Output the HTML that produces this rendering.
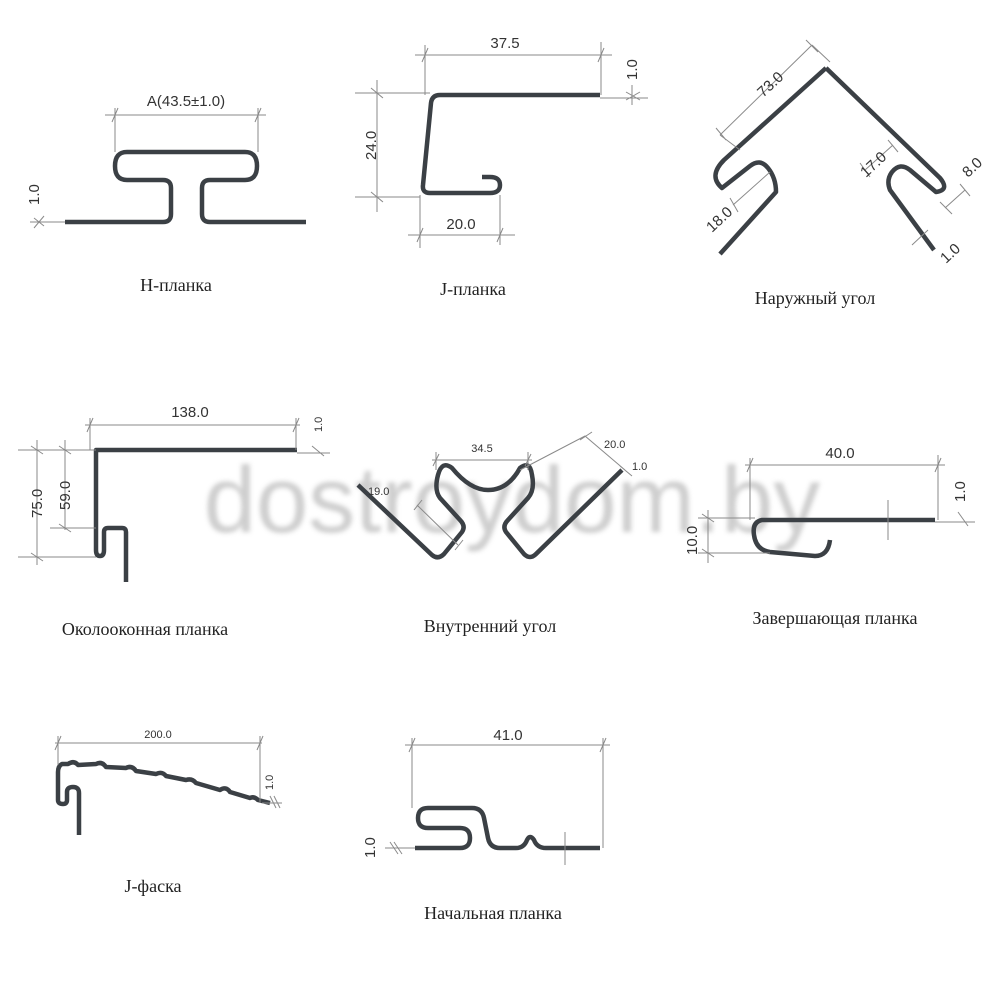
<!DOCTYPE html>
<html><head><meta charset="utf-8"><style>
html,body{margin:0;padding:0;background:#fff;}
svg{display:block;}
.t{stroke:#3b4045;stroke-width:4.5;fill:none;stroke-linecap:butt;stroke-linejoin:round;}
.d{stroke:#8a8a8a;stroke-width:1;fill:none;}
.n{font-family:"Liberation Sans",sans-serif;font-size:15px;fill:#333;}
.s{font-family:"Liberation Sans",sans-serif;font-size:11px;fill:#333;}
.l{font-family:"Liberation Serif","DejaVu Serif",serif;font-size:18px;fill:#222;}
</style></head><body>
<svg width="1000" height="1000" viewBox="0 0 1000 1000">
<defs><filter id="b"><feGaussianBlur stdDeviation="2.5"/></filter></defs>
<!-- watermark -->
<text x="512" y="532" text-anchor="middle" font-family="Liberation Sans,sans-serif" font-size="94" fill="#c9c9c9" filter="url(#b)" opacity="0.9">dostroydom.by</text>

<!-- H-planka -->
<path class="t" d="M65,222 H163 Q171,222 171,214 V188 Q171,180 163,180 H127 Q115,180 115,166 Q115,152 127,152 H245 Q257,152 257,166 Q257,180 245,180 H210 Q202,180 202,188 V214 Q202,222 210,222 H306"/>
<path class="d" d="M105,115 H266 M115,108 V152 M258,108 V152 M112,122 L118,108 M255,122 L261,108 M30,222 H65 M34,228 L44,216 M34,218 L44,226"/>
<text class="n" x="186" y="106" text-anchor="middle">A(43.5±1.0)</text>
<text class="n" transform="translate(39,205) rotate(-90)">1.0</text>
<text class="l" x="176" y="291" text-anchor="middle">H-планка</text>

<!-- J-planka -->
<path class="t" d="M600,95 H440 Q432,95 431,103 L423,185 Q422,193 430,193 H490 Q500,193 500,185 Q500,177 490,177 H482"/>
<path class="d" d="M415,55 H612 M425,45 V95 M601,42 V95 M422,62 L428,48 M598,62 L604,48 M377,80 V212 M355,93 H430 M355,197 H420 M371,88 L383,98 M371,192 L383,202 M408,235 H515 M420,195 V248 M500,195 V245 M417,242 L423,228 M497,242 L503,228 M600,98 H648 M632,85 V105 M626,92 L640,100 M626,100 L640,92"/>
<text class="n" x="505" y="48" text-anchor="middle">37.5</text>
<text class="n" transform="translate(376,160) rotate(-90)">24.0</text>
<text class="n" x="461" y="229" text-anchor="middle">20.0</text>
<text class="n" transform="translate(637,80) rotate(-90)">1.0</text>
<text class="l" x="473" y="295" text-anchor="middle">J-планка</text>

<!-- Outer corner -->
<path class="t" d="M826,68 L724,160 Q708,176 722,188 L750,166 Q760,158 768,168 Q776,178 776,192 L720,254"/>
<path class="t" d="M826,68 L940,178 Q950,190 936,192 L910,170 Q900,162 892,172 Q886,180 890,190 L934,250"/>
<path class="d" d="M720,135 L812,45 M716,128 L726,140 M806,40 L818,52 M812,45 L830,62 M720,135 L740,150 M733,205 L770,172 M730,198 L738,212 M865,170 L893,145 M860,163 L870,177 M888,140 L898,152 M945,208 L965,190 M940,202 L952,214 M960,184 L970,196 M912,245 L928,230"/>
<text class="n" transform="translate(763,98) rotate(-43)">73.0</text>
<text class="n" transform="translate(712,233) rotate(-43)">18.0</text>
<text class="n" transform="translate(866,178) rotate(-43)">17.0</text>
<text class="n" transform="translate(968,178) rotate(-43)">8.0</text>
<text class="n" transform="translate(946,264) rotate(-43)">1.0</text>
<text class="l" x="815" y="304" text-anchor="middle">Наружный угол</text>

<!-- Okolookonnaya -->
<path class="t" d="M297,450 H96 V550 Q96,556 100,556 Q104,556 104,550 V532 Q104,528 108,528 H122 Q126,528 126,532 V582"/>
<path class="d" d="M85,425 H300 M90,418 V450 M296,418 V450 M87,432 L93,418 M293,432 L299,418 M18,450 H96 M50,528 H96 M18,557 H96 M37,440 V565 M65,440 V530 M31,446 L43,454 M31,553 L43,561 M59,446 L71,454 M59,524 L71,532 M297,453 H330 M312,446 L324,456"/>
<text class="n" x="190" y="417" text-anchor="middle">138.0</text>
<text class="n" transform="translate(42,518) rotate(-90)">75.0</text>
<text class="n" transform="translate(70,510) rotate(-90)">59.0</text>
<text class="s" transform="translate(322,432) rotate(-90)">1.0</text>
<text class="l" x="145" y="635" text-anchor="middle">Околооконная планка</text>

<!-- Inner corner -->
<path class="t" d="M358,485 L432,555 Q438,560 444,554 L462,532 Q466,526 460,520 L440,498 Q434,490 438,475 Q442,460 452,468 Q470,490 488,490 Q508,490 520,468 Q530,460 532,475 Q535,490 528,498 L508,520 Q502,526 506,532 L524,554 Q530,560 536,554 L622,470"/>
<path class="d" d="M432,460 H532 M436,452 V470 M528,452 V470 M433,466 L439,454 M525,466 L531,454 M520,470 L585,436 L625,470 M580,440 L592,432 M620,466 L632,476 M417,505 L458,545 M414,510 L422,500 M455,550 L463,540"/>
<text class="s" x="482" y="452" text-anchor="middle">34.5</text>
<text class="s" x="604" y="448">20.0</text>
<text class="s" x="632" y="470">1.0</text>
<text class="s" x="368" y="495">19.0</text>
<text class="l" x="490" y="632" text-anchor="middle">Внутренний угол</text>

<!-- Zavershayushchaya -->
<path class="t" d="M935,520 H762 Q752,522 754,535 Q756,550 770,552 L815,556 Q828,556 830,540"/>
<path class="d" d="M745,465 H945 M750,458 V520 M938,455 V520 M747,472 L753,458 M935,472 L941,458 M698,518 H755 M698,553 H770 M708,510 V563 M702,514 L714,522 M702,549 L714,557 M935,522 H975 M958,512 L968,526 M888,500 V540"/>
<text class="n" x="840" y="458" text-anchor="middle">40.0</text>
<text class="n" transform="translate(697,555) rotate(-90)">10.0</text>
<text class="n" transform="translate(965,502) rotate(-90)">1.0</text>
<text class="l" x="835" y="624" text-anchor="middle">Завершающая планка</text>

<!-- J-faska -->
<path class="t" stroke-width="4" d="M270,803 L258,800 Q254,796 250,798 L230,792 Q226,786 220,790 L196,783 Q192,778 186,780 L166,776 Q162,771 156,774 L136,771 Q132,765 126,768 L106,767 Q102,761 96,764 L78,765 Q74,760 68,764 L62,764 Q58,766 58,772 V800 Q58,804 63,804 Q67,804 67,800 V792 Q67,787 73,787 Q79,787 79,793 V835"/>
<path class="d" d="M55,743 H262 M58,736 V765 M260,736 V803 M55,750 L61,736 M257,750 L263,736 M262,803 H282 M270,796 L276,808 M274,796 L280,808"/>
<text class="s" x="158" y="738" text-anchor="middle">200.0</text>
<text class="s" transform="translate(273,790) rotate(-90)">1.0</text>
<text class="l" x="153" y="892" text-anchor="middle">J-фаска</text>

<!-- Nachalnaya -->
<path class="t" d="M415,848 H460 Q470,848 470,838 Q470,828 460,828 H428 Q418,828 418,818 Q418,808 428,808 H472 Q482,808 484,818 L488,838 Q490,848 500,848 H516 Q524,848 527,840 Q530,834 534,840 Q537,848 546,848 H600"/>
<path class="d" d="M405,745 H610 M412,738 V808 M603,738 V848 M409,752 L415,738 M600,752 L606,738 M385,848 H415 M390,842 L398,854 M394,842 L402,854 M565,832 V865"/>
<text class="n" x="508" y="740" text-anchor="middle">41.0</text>
<text class="n" transform="translate(375,858) rotate(-90)">1.0</text>
<text class="l" x="493" y="919" text-anchor="middle">Начальная планка</text>
</svg>
</body></html>
